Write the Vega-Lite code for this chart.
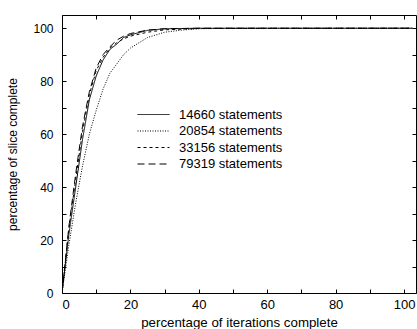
{
  "$schema": "https://vega.github.io/schema/vega-lite/v6.json",
  "width": 354,
  "height": 278,
  "autosize": "none",
  "padding": {"left": 62, "top": 15, "right": 1, "bottom": 36},
  "background": "white",
  "config": {
    "font": "Liberation Sans",
    "view": {"stroke": "black", "strokeWidth": 1},
    "axis": {
      "domain": false,
      "tickColor": "black",
      "tickWidth": 1,
      "labelColor": "black",
      "titleColor": "black",
      "labelFont": "Liberation Sans",
      "titleFont": "Liberation Sans",
      "labelFontSize": 12,
      "titleFontSize": 12,
      "titleFontWeight": "normal",
      "grid": false,
      "tickSize": -4
    }
  },
  "data": {
    "values": [
      {"s": "14660 statements", "x": 0, "y": 0},
      {"s": "14660 statements", "x": 2, "y": 22},
      {"s": "14660 statements", "x": 4, "y": 40},
      {"s": "14660 statements", "x": 6, "y": 58},
      {"s": "14660 statements", "x": 8, "y": 73},
      {"s": "14660 statements", "x": 10, "y": 82},
      {"s": "14660 statements", "x": 12, "y": 88},
      {"s": "14660 statements", "x": 14, "y": 92},
      {"s": "14660 statements", "x": 16, "y": 94},
      {"s": "14660 statements", "x": 18, "y": 96.5},
      {"s": "14660 statements", "x": 20, "y": 97.5},
      {"s": "14660 statements", "x": 25, "y": 99.2},
      {"s": "14660 statements", "x": 30, "y": 99.8},
      {"s": "14660 statements", "x": 40, "y": 100},
      {"s": "14660 statements", "x": 102.5, "y": 100},
      {"s": "20854 statements", "x": 0, "y": 0},
      {"s": "20854 statements", "x": 2, "y": 18},
      {"s": "20854 statements", "x": 4, "y": 34},
      {"s": "20854 statements", "x": 6, "y": 48},
      {"s": "20854 statements", "x": 8, "y": 60},
      {"s": "20854 statements", "x": 10, "y": 69},
      {"s": "20854 statements", "x": 12, "y": 77},
      {"s": "20854 statements", "x": 14, "y": 83},
      {"s": "20854 statements", "x": 16, "y": 86.5},
      {"s": "20854 statements", "x": 18, "y": 90},
      {"s": "20854 statements", "x": 20, "y": 92.5},
      {"s": "20854 statements", "x": 25, "y": 96.5},
      {"s": "20854 statements", "x": 30, "y": 98.5},
      {"s": "20854 statements", "x": 35, "y": 99.3},
      {"s": "20854 statements", "x": 40, "y": 99.8},
      {"s": "20854 statements", "x": 50, "y": 100},
      {"s": "20854 statements", "x": 102.5, "y": 100},
      {"s": "33156 statements", "x": 0, "y": 0},
      {"s": "33156 statements", "x": 2, "y": 24},
      {"s": "33156 statements", "x": 4, "y": 43},
      {"s": "33156 statements", "x": 6, "y": 61},
      {"s": "33156 statements", "x": 8, "y": 75},
      {"s": "33156 statements", "x": 10, "y": 84},
      {"s": "33156 statements", "x": 12, "y": 89},
      {"s": "33156 statements", "x": 14, "y": 92.5},
      {"s": "33156 statements", "x": 16, "y": 94.5},
      {"s": "33156 statements", "x": 18, "y": 96},
      {"s": "33156 statements", "x": 20, "y": 97},
      {"s": "33156 statements", "x": 25, "y": 98.5},
      {"s": "33156 statements", "x": 30, "y": 99.4},
      {"s": "33156 statements", "x": 40, "y": 99.9},
      {"s": "33156 statements", "x": 102.5, "y": 100},
      {"s": "79319 statements", "x": 0, "y": 0},
      {"s": "79319 statements", "x": 2, "y": 25},
      {"s": "79319 statements", "x": 4, "y": 45},
      {"s": "79319 statements", "x": 6, "y": 63},
      {"s": "79319 statements", "x": 8, "y": 76},
      {"s": "79319 statements", "x": 10, "y": 85},
      {"s": "79319 statements", "x": 12, "y": 90},
      {"s": "79319 statements", "x": 14, "y": 93},
      {"s": "79319 statements", "x": 16, "y": 95.5},
      {"s": "79319 statements", "x": 18, "y": 97},
      {"s": "79319 statements", "x": 20, "y": 98},
      {"s": "79319 statements", "x": 25, "y": 99.3},
      {"s": "79319 statements", "x": 30, "y": 99.8},
      {"s": "79319 statements", "x": 40, "y": 100},
      {"s": "79319 statements", "x": 102.5, "y": 100}
    ]
  },
  "resolve": {"axis": {"x": "independent", "y": "independent"}},
  "layer": [
    {
      "mark": {"type": "line", "color": "black", "strokeWidth": 1, "clip": true},
      "encoding": {
        "x": {
          "field": "x", "type": "quantitative",
          "scale": {"domain": [0, 103.5], "nice": false, "zero": false},
          "axis": {
            "title": "percentage of iterations complete",
            "values": [0, 10, 20, 30, 40, 50, 60, 70, 80, 90, 100],
            "labelExpr": "datum.value % 20 == 0 ? datum.label : ''",
            "labelFontSize": 13,
            "titleFontSize": 13.3,
            "labelPadding": 9,
            "titlePadding": 4
          }
        },
        "y": {
          "field": "y", "type": "quantitative",
          "scale": {"domain": [0, 105], "nice": false, "zero": false},
          "axis": {
            "title": "percentage of slice complete",
            "values": [0, 10, 20, 30, 40, 50, 60, 70, 80, 90, 100],
            "labelExpr": "datum.value % 20 == 0 ? datum.label : ''",
            "labelPadding": 13,
            "titlePadding": 13
          }
        },
        "strokeDash": {
          "field": "s", "type": "nominal",
          "scale": {
            "domain": ["14660 statements", "20854 statements", "33156 statements", "79319 statements"],
            "range": [[1, 0], [1, 1.5], [3, 3], [7, 4]]
          },
          "legend": {
            "title": null,
            "orient": "none",
            "legendX": 85,
            "legendY": 93,
            "padding": 0,
            "symbolType": "M-4,0H4",
            "symbolSize": 64,
            "symbolStrokeColor": "black",
            "symbolStrokeWidth": 1,
            "labelFontSize": 13,
            "labelColor": "black",
            "labelFont": "Liberation Sans",
            "labelOffset": 19,
            "rowPadding": 2.5
          }
        }
      }
    },
    {
      "mark": {"type": "line", "strokeOpacity": 0},
      "encoding": {
        "x": {
          "field": "x", "type": "quantitative",
          "axis": {"orient": "top", "title": null, "labels": false,
                   "values": [0, 10, 20, 30, 40, 50, 60, 70, 80, 90, 100]}
        },
        "y": {
          "field": "y", "type": "quantitative",
          "axis": {"orient": "right", "title": null, "labels": false,
                   "values": [0, 10, 20, 30, 40, 50, 60, 70, 80, 90, 100]}
        },
        "detail": {"field": "s", "type": "nominal"}
      }
    }
  ]
}
